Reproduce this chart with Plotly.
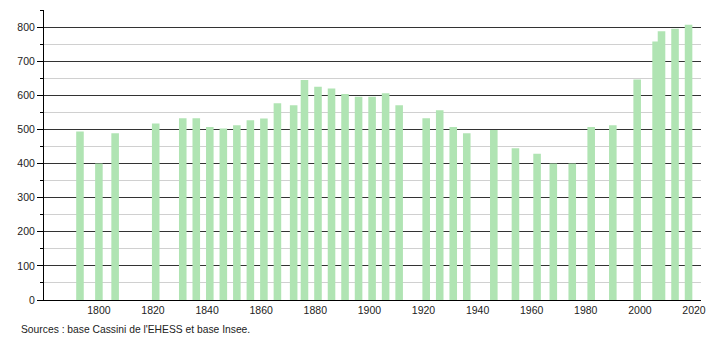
import plotly.graph_objects as go

years = [1793, 1800, 1806, 1821, 1831, 1836, 1841, 1846, 1851, 1856, 1861, 1866,
         1872, 1876, 1881, 1886, 1891, 1896, 1901, 1906, 1911, 1921, 1926, 1931,
         1936, 1946, 1954, 1962, 1968, 1975, 1982, 1990, 1999, 2006, 2008, 2013, 2018]
population = [494, 400, 489, 517, 533, 533, 507, 503, 512, 527, 532, 577,
              571, 645, 625, 620, 604, 596, 596, 606, 571, 533, 556, 507,
              489, 498, 445, 429, 400, 400, 507, 512, 646, 758, 788, 795, 807]

x_ticks = [1800, 1820, 1840, 1860, 1880, 1900, 1920, 1940, 1960, 1980, 2000, 2020]
y_ticks = [0, 100, 200, 300, 400, 500, 600, 700, 800]
source_text = "Sources : base Cassini de l'EHESS et base Insee."

fig = go.Figure()
fig.add_trace(go.Bar(
    x=years, y=population, width=2.8,
    marker=dict(color="#b0e4b3", line=dict(width=0)),
    hoverinfo="x+y",
))

fig.update_layout(
    width=710, height=340,
    margin=dict(l=44, r=9, t=10, b=40, autoexpand=False),
    paper_bgcolor="white", plot_bgcolor="white",
    showlegend=False,
    font=dict(family="Liberation Sans, Arial, sans-serif", size=10.5, color="#222"),
    xaxis=dict(
        range=[1779.7, 2022.6],
        tickvals=x_ticks,
        showgrid=False, zeroline=False,
        showline=True, linecolor="black", linewidth=1,
        ticks="", ticklen=0,
        tickfont=dict(size=10.5, color="#222"),
    ),
    yaxis=dict(
        range=[0, 850],
        tickvals=y_ticks,
        showgrid=True, gridcolor="#333333", gridwidth=1,
        zeroline=False,
        showline=True, linecolor="black", linewidth=1,
        ticks="outside", ticklen=6, tickcolor="black",
        tickfont=dict(size=10.5, color="#222"),
        minor=dict(dtick=50, showgrid=True, gridcolor="#d0d0d0", gridwidth=1,
                   ticks="outside", ticklen=3, tickcolor="black"),
    ),
    annotations=[dict(
        text=source_text, xref="paper", yref="paper",
        x=(19 - 44) / 657, y=(300 - 329) / 290, xanchor="left", yanchor="middle",
        showarrow=False,
        font=dict(size=10.3, color="#222"),
    )],
)

fig.write_html("out.html")
